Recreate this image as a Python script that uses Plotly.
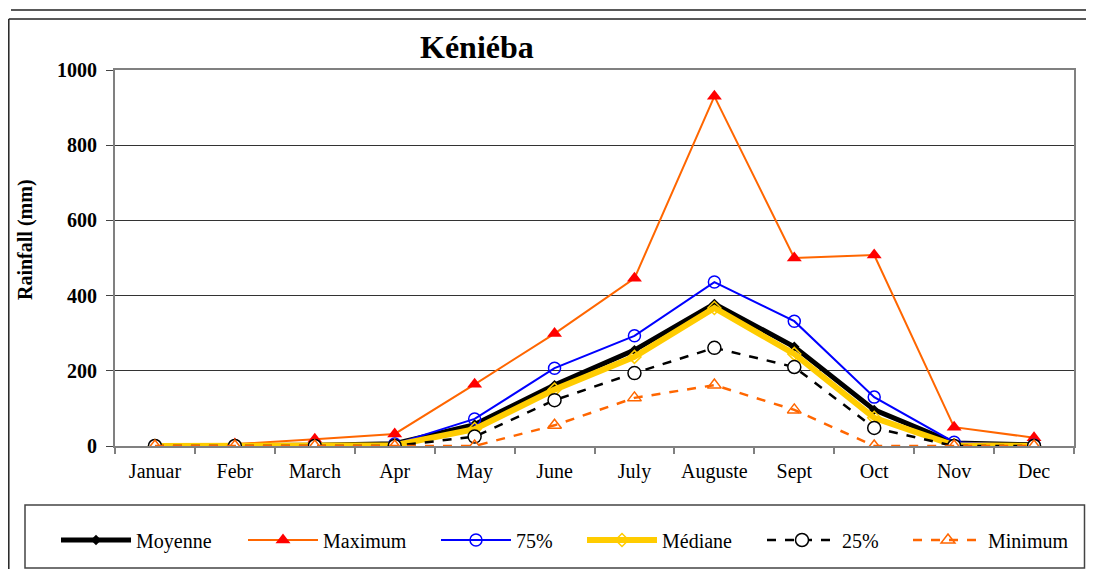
import plotly.graph_objects as go

months = ["Januar", "Febr", "March", "Apr", "May", "June", "July",
          "Auguste", "Sept", "Oct", "Nov", "Dec"]
moyenne = [1, 1, 2, 6, 57, 162, 255, 378, 264, 96, 8, 3]
maximum = [2, 5, 18, 32, 164, 299, 446, 930, 500, 508, 50, 22]
p75 = [0, 0, 0, 5, 72, 207, 293, 436, 332, 130, 10, 2]
mediane = [0, 0, 0, 2, 45, 150, 237, 367, 245, 75, 2, 0]
p25 = [0, 0, 0, 0, 25, 122, 194, 261, 210, 48, 0, 0]
minimum = [0, 0, 0, 0, 0, 55, 128, 162, 96, 0, 0, 0]

OFF = 8  # page body margin
W, H = 1094 - 2 * OFF, 577 - 2 * OFF
# plot area in screen pixels
SL, SR, ST, SB = 115, 1074, 70, 446
PL, PR, PT, PB = SL - OFF, SR - OFF, ST - OFF, SB - OFF
FONT = "Liberation Serif, Times New Roman, serif"


def px(x):  # screen x -> paper
    return (x - OFF - PL) / (PR - PL)


def py(y):  # screen y -> paper
    return (PB - (y - OFF)) / (PB - PT)


fig = go.Figure()
fig.add_trace(go.Scatter(x=months, y=moyenne, name="Moyenne", mode="lines+markers",
                         line=dict(color="black", width=5),
                         marker=dict(symbol="diamond", size=8, color="black"),
                         legend="legend"))
fig.add_trace(go.Scatter(x=months, y=maximum, name="Maximum", mode="lines+markers",
                         line=dict(color="#FF6600", width=2),
                         marker=dict(symbol="triangle-up", size=13, color="#FF0000"),
                         legend="legend2"))
fig.add_trace(go.Scatter(x=months, y=p75, name="75%", mode="lines+markers",
                         line=dict(color="#0000FF", width=2),
                         marker=dict(symbol="circle-open", size=12, color="#0000FF",
                                     line=dict(width=1.5)),
                         legend="legend3"))
fig.add_trace(go.Scatter(x=months, y=mediane, name="Médiane", mode="lines+markers",
                         line=dict(color="#FFCC00", width=6),
                         marker=dict(symbol="diamond-open", size=10, color="#FFCC00",
                                     line=dict(width=1.5)),
                         legend="legend4"))
fig.add_trace(go.Scatter(x=months, y=p25, name="25%", mode="lines+markers",
                         line=dict(color="black", width=2.5, dash="dash"),
                         marker=dict(symbol="circle", size=13, color="white",
                                     line=dict(color="black", width=1.5)),
                         legend="legend5"))
fig.add_trace(go.Scatter(x=months, y=minimum, name="Minimum", mode="lines+markers",
                         line=dict(color="#FF6600", width=2.5, dash="dash"),
                         marker=dict(symbol="triangle-up-open", size=12, color="#FF6600",
                                     line=dict(width=1.5)),
                         legend="legend6"))

NONE = "rgba(0,0,0,0)"
shapes = [
    # outer chart border (top and left)
    dict(type="line", xref="paper", yref="paper", x0=px(8.8), x1=px(1100), y0=py(19), y1=py(19),
         line=dict(color="#222", width=1.5)),
    dict(type="line", xref="paper", yref="paper", x0=px(8.8), x1=px(8.8), y0=py(19), y1=py(600),
         line=dict(color="#222", width=1.5)),
    # bottom of the box above
    dict(type="line", xref="paper", yref="paper", x0=px(11), x1=px(1100), y0=py(10), y1=py(10),
         line=dict(color="#222", width=1.5)),
    # legend box
    dict(type="rect", xref="paper", yref="paper", x0=px(25), x1=px(1084.5), y0=py(568), y1=py(505),
         line=dict(color="#444", width=1.5), fillcolor=NONE),
]

legend_text_x = [136, 323, 516, 662, 842, 988]
layout_legends = {}
for i, tx in enumerate(legend_text_x):
    key = "legend" if i == 0 else f"legend{i + 1}"
    layout_legends[key] = dict(orientation="h", x=px(tx - 80), xanchor="left",
                               y=py(540), yanchor="middle", itemwidth=70,
                               font=dict(family=FONT, size=20), bgcolor=NONE,
                               borderwidth=0, itemclick=False, itemdoubleclick=False)

fig.update_layout(
    width=W, height=H,
    margin=dict(l=PL, r=W - PR, t=PT, b=H - PB, autoexpand=False),
    paper_bgcolor="white", plot_bgcolor="white",
    font=dict(family=FONT, size=20, color="black"),
    showlegend=True,
    shapes=shapes,
    annotations=[
        dict(text="<b>Kéniéba</b>", xref="paper", yref="paper", x=px(477), y=py(47),
             xanchor="center", yanchor="middle", showarrow=False,
             font=dict(family=FONT, size=32)),
        dict(text="<b>Rainfall (mm)</b>", xref="paper", yref="paper", x=px(25), y=py(240),
             xanchor="center", yanchor="middle", showarrow=False, textangle=-90,
             font=dict(family=FONT, size=20)),
    ],
    **layout_legends,
)
fig.update_xaxes(type="category", range=[-0.5, 11.5], tickson="boundaries",
                 ticks="outside", ticklen=6, tickcolor="#808080", tickwidth=1.5,
                 ticklabelstandoff=6,
                 showline=True, linecolor="#808080", linewidth=2, mirror=True,
                 showgrid=False, tickfont=dict(family=FONT, size=20))
fig.update_yaxes(range=[0, 1000], tickvals=[0, 200, 400, 600, 800, 1000],
                 ticktext=["<b>0</b>", "<b>200</b>", "<b>400</b>", "<b>600</b>", "<b>800</b>", "<b>1000</b>"],
                 ticks="outside", ticklen=7, tickcolor="#444", tickwidth=1,
                 ticklabelstandoff=5,
                 showline=True, linecolor="#808080", linewidth=2, mirror=True,
                 showgrid=True, gridcolor="#333", gridwidth=1, zeroline=False,
                 tickfont=dict(family=FONT, size=20))

fig.write_html("out.html")
